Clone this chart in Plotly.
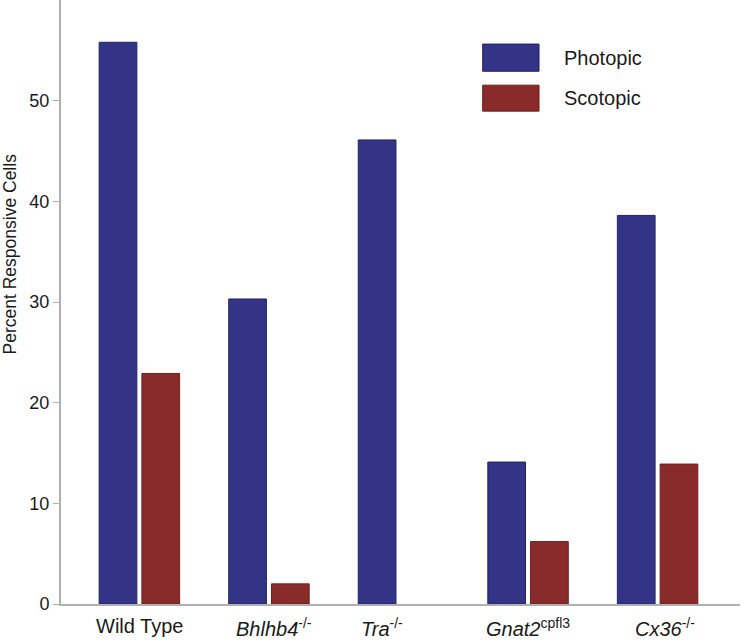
import plotly.graph_objects as go

categories = ["Wild Type", "Bhlhb4", "Tra", "Gnat2", "Cx36"]
tick_labels = ["Wild Type", "<i>Bhlhb4</i><sup>-/-</sup>", "<i>Tra</i><sup>-/-</sup>",
               "<i>Gnat2</i><sup>cpfl3</sup>", "<i>Cx36</i><sup>-/-</sup>"]
photopic = [55.8, 30.3, 46.1, 14.1, 38.6]
scotopic = [22.9, 2.0, None, 6.2, 13.9]
y_ticks = [0, 10, 20, 30, 40, 50]

BLUE = "#343486"
RED = "#8a2b2b"
FONT = "Liberation Sans, Arial, sans-serif"
TXT = "#1a1a1a"

fig = go.Figure()
fig.add_trace(go.Bar(x=categories, y=photopic, name="Photopic",
                     marker=dict(color=BLUE, line=dict(color="#22226a", width=1))))
fig.add_trace(go.Bar(x=categories, y=scotopic, name="Scotopic",
                     marker=dict(color=RED, line=dict(color="#6e1f1f", width=1))))

# x labels as annotations (Tra label sits under its single bar)
label_shift = [0, 0.04, -0.13, 0, 0.06]
for i, (lab, s) in enumerate(zip(tick_labels, label_shift)):
    fig.add_annotation(x=i + s, y=0, xref="x", yref="paper", text=lab,
                       showarrow=False, yanchor="top", yshift=-9,
                       font=dict(family=FONT, size=20, color=TXT))

# y title
fig.add_annotation(x=-0.0754, y=0.58, xref="paper", yref="paper",
                   text="Percent Responsive Cells", textangle=-90, showarrow=False,
                   xanchor="center", yanchor="middle",
                   font=dict(family=FONT, size=17.5, color=TXT))

# legend drawn manually
leg = [("Photopic", BLUE, "#22226a", 0.927, 0.882), ("Scotopic", RED, "#6e1f1f", 0.859, 0.816)]
for name, col, lc, y1, y0 in leg:
    fig.add_shape(type="rect", xref="paper", yref="paper", x0=0.621, x1=0.704,
                  y0=y0, y1=y1, fillcolor=col, line=dict(color=lc, width=1))
    fig.add_annotation(x=0.738, y=(y0 + y1) / 2, xref="paper", yref="paper",
                       text=name, showarrow=False, xanchor="left", yanchor="middle",
                       font=dict(family=FONT, size=20, color=TXT))

fig.update_layout(
    width=750, height=641,
    margin=dict(l=61, r=10, t=0, b=37),
    paper_bgcolor="white", plot_bgcolor="white",
    barmode="group", bargap=0.34, bargroupgap=0.118,
    showlegend=False,
    xaxis=dict(range=[-0.605, 4.636], showticklabels=False, ticks="",
               showline=True, linecolor="#b0b0b0", linewidth=2, showgrid=False,
               zeroline=False),
    yaxis=dict(range=[0, 60], tickvals=y_ticks, ticks="outside", ticklen=6,
               tickcolor="#b0b0b0", tickwidth=1, showline=True, linecolor="#b0b0b0",
               linewidth=2, showgrid=False, zeroline=False,
               tickfont=dict(family=FONT, size=18, color=TXT)),
)

fig.write_html("out.html", config={"displayModeBar": False},
               post_script="document.body.style.margin='0';document.body.style.overflow='hidden';")
